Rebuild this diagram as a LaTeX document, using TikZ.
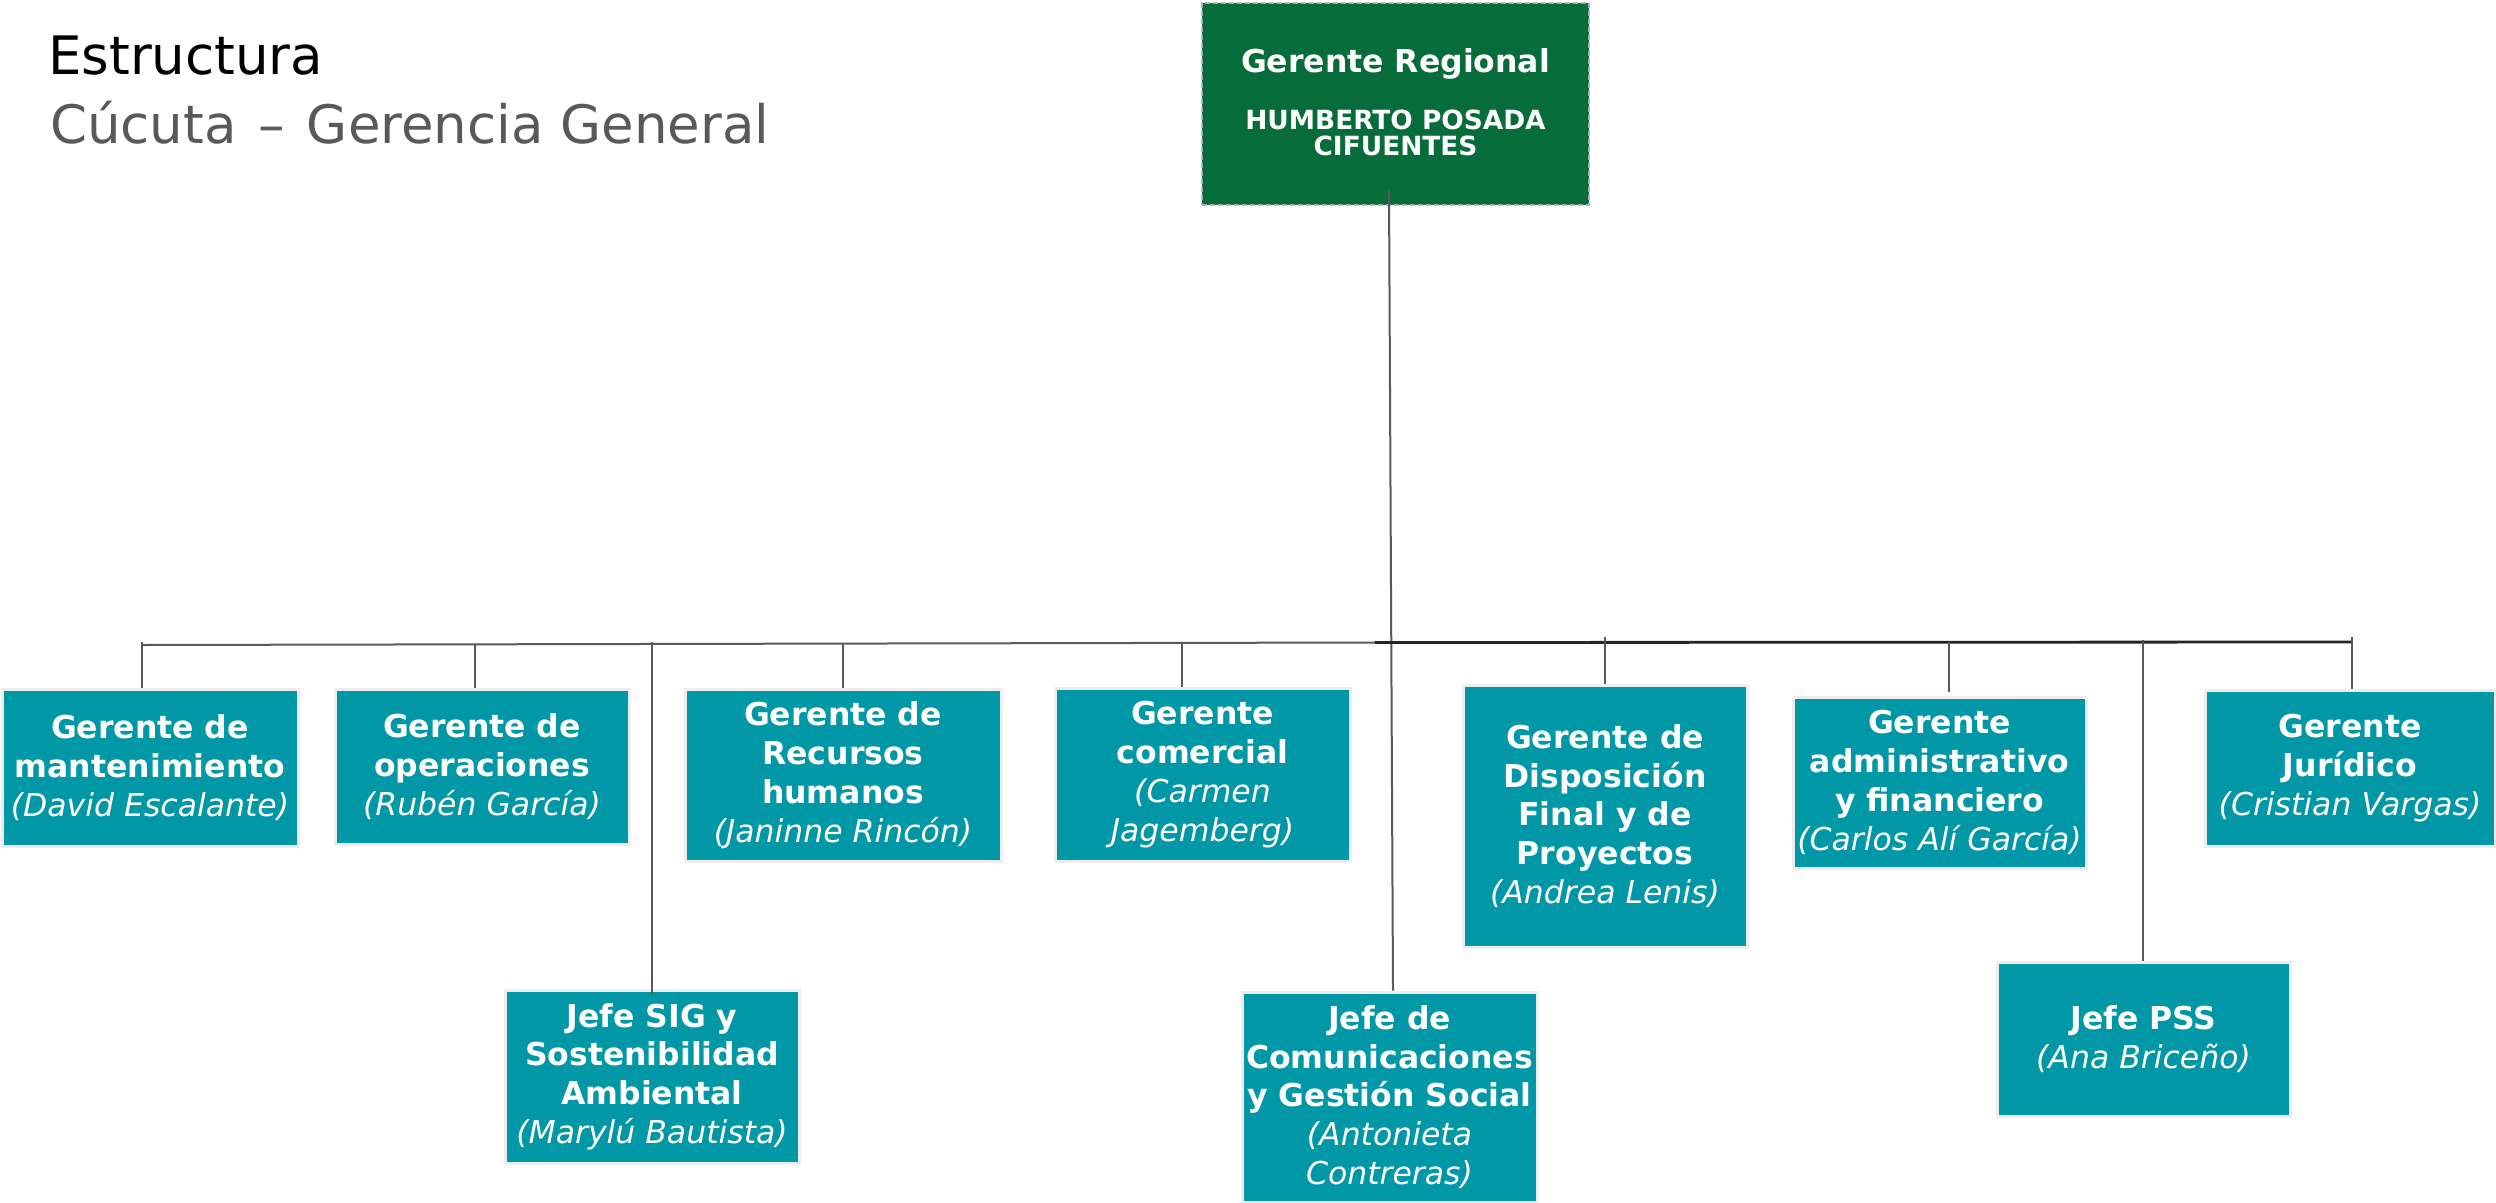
\documentclass[tikz,border=0pt]{standalone}
\usepackage{fontspec}
\setmainfont{DejaVu Sans}
\definecolor{boxteal}{HTML}{0097A7}
\definecolor{topgreen}{HTML}{066C39}
\definecolor{linegray}{HTML}{595959}
\definecolor{busdark}{HTML}{262626}
\definecolor{subgray}{HTML}{595959}
\definecolor{rimgray}{HTML}{EEEEEE}
\definecolor{dashgray}{HTML}{B0B0B0}
\tikzset{
  orgbox/.style={rectangle, fill=boxteal, draw=rimgray, line width=3pt,
    inner sep=0pt, text=white, align=center,
    font=\fontsize{31.5}{38.8}\selectfont},
  topbox/.style={rectangle, fill=topgreen, draw=dashgray, line width=1.3pt,
    dash pattern=on 5pt off 3pt, inner sep=0pt,
    minimum width=387pt, minimum height=202pt},
  toptext/.style={anchor=base, inner sep=0pt, text=white},
  link/.style={draw=linegray, line width=2pt},
  bus/.style={draw=busdark, line width=2.8pt},
}
\begin{document}
\begin{tikzpicture}[x=1pt,y=-1pt]
\useasboundingbox (0,0) rectangle (2496,1202);

% heading
\node[anchor=base west, inner sep=0pt, font=\fontsize{53}{60}\selectfont] (ttl) at (48,74) {Estructura};
\node[anchor=base west, inner sep=0pt, text=subgray, font=\fontsize{53}{60}\selectfont] (sub) at (50,143) {Cúcuta\hspace{5pt} –\hspace{5pt} Gerencia General};

% regional manager
\node[topbox] (top) at (1395.5,104) {};
\node[toptext, font=\fontsize{31.5}{36}\selectfont\bfseries] (toptitle) at (1395.5,72) {Gerente Regional};
\node[toptext, font=\fontsize{26.4}{26}\selectfont\bfseries] (topname1) at (1395.5,129) {HUMBERTO POSADA};
\node[toptext, font=\fontsize{26.4}{26}\selectfont\bfseries] (topname2) at (1395.5,155) {CIFUENTES};

% reporting units
\node[orgbox, minimum width=296pt, minimum height=157pt] (mant) at (150,767.5)
  {\textbf{Gerente de}\\\textbf{mantenimiento}\\\textit{(David Escalante)}};
\node[orgbox, minimum width=294pt, minimum height=155pt] (oper) at (482,766.5)
  {\textbf{Gerente de}\\\textbf{operaciones}\\\textit{(Rubén García)}};
\node[orgbox, minimum width=294pt, minimum height=173pt] (sig) at (652,1076.5)
  {\textbf{Jefe SIG y}\\\textbf{Sostenibilidad}\\\textbf{Ambiental}\\\textit{(Marylú Bautista)}};
\node[orgbox, minimum width=316pt, minimum height=172pt] (rrhh) at (843,775)
  {\textbf{Gerente de}\\\textbf{Recursos}\\\textbf{humanos}\\\textit{(Janinne Rincón)}};
\node[orgbox, minimum width=295pt, minimum height=173pt] (com) at (1202.5,774.5)
  {\textbf{Gerente}\\\textbf{comercial}\\\textit{(Carmen}\\\textit{Jagemberg)}};
\node[orgbox, minimum width=295pt, minimum height=210pt] (comu) at (1389.5,1097)
  {\textbf{Jefe de}\\\textbf{Comunicaciones}\\\textbf{y Gestión Social}\\\textit{(Antonieta}\\\textit{Contreras)}};
\node[orgbox, minimum width=284pt, minimum height=262pt] (disp) at (1605,816)
  {\textbf{Gerente de}\\\textbf{Disposición}\\\textbf{Final y de}\\\textbf{Proyectos}\\\textit{(Andrea Lenis)}};
\node[orgbox, minimum width=293pt, minimum height=171pt] (adm) at (1939.5,782.5)
  {\textbf{Gerente}\\\textbf{administrativo}\\\textbf{y financiero}\\\textit{(Carlos Alí García)}};
\node[orgbox, minimum width=293pt, minimum height=154pt] (pss) at (2143.5,1039)
  {\textbf{Jefe PSS}\\\textit{(Ana Briceño)}};
\node[orgbox, minimum width=290pt, minimum height=156pt] (jur) at (2350,768)
  {\textbf{Gerente}\\\textbf{Jurídico}\\\textit{(Cristian Vargas)}};

% main trunk
\draw[link] ([xshift=-6.5pt,yshift=15pt]top.south) -- ([xshift=3.5pt]comu.north);

% horizontal bus
\coordinate (busL) at (142,645);
\coordinate (busM) at (1375,642.5);
\coordinate (busR) at (2352,642);
\draw[link] (busL) -- (busM);
\draw[bus] (busM) -- (busR);

% drops to each unit
\coordinate (d1) at (142,642);
\coordinate (d2) at (475,645);
\coordinate (d3) at (651.5,642);
\coordinate (d4) at (843,643);
\coordinate (d5) at (1182,643);
\coordinate (d6) at (1605,637);
\coordinate (d7) at (1948.5,642);
\coordinate (d8) at (2143,640);
\coordinate (d9) at (2352,637);
\draw[link] (d1) -- (d1 |- mant.north);
\draw[link] (d2) -- (d2 |- oper.north);
\draw[link] (d3) -- ([yshift=-6pt]d3 |- sig.north);
\draw[link] (d4) -- (d4 |- rrhh.north);
\draw[link] (d5) -- (d5 |- com.north);
\draw[link] (d6) -- (d6 |- disp.north);
\draw[link] (d7) -- ([yshift=4pt]d7 |- adm.north);
\draw[link] (d8) -- (d8 |- pss.north);
\draw[link] (d9) -- (d9 |- jur.north);
\end{tikzpicture}
\end{document}
